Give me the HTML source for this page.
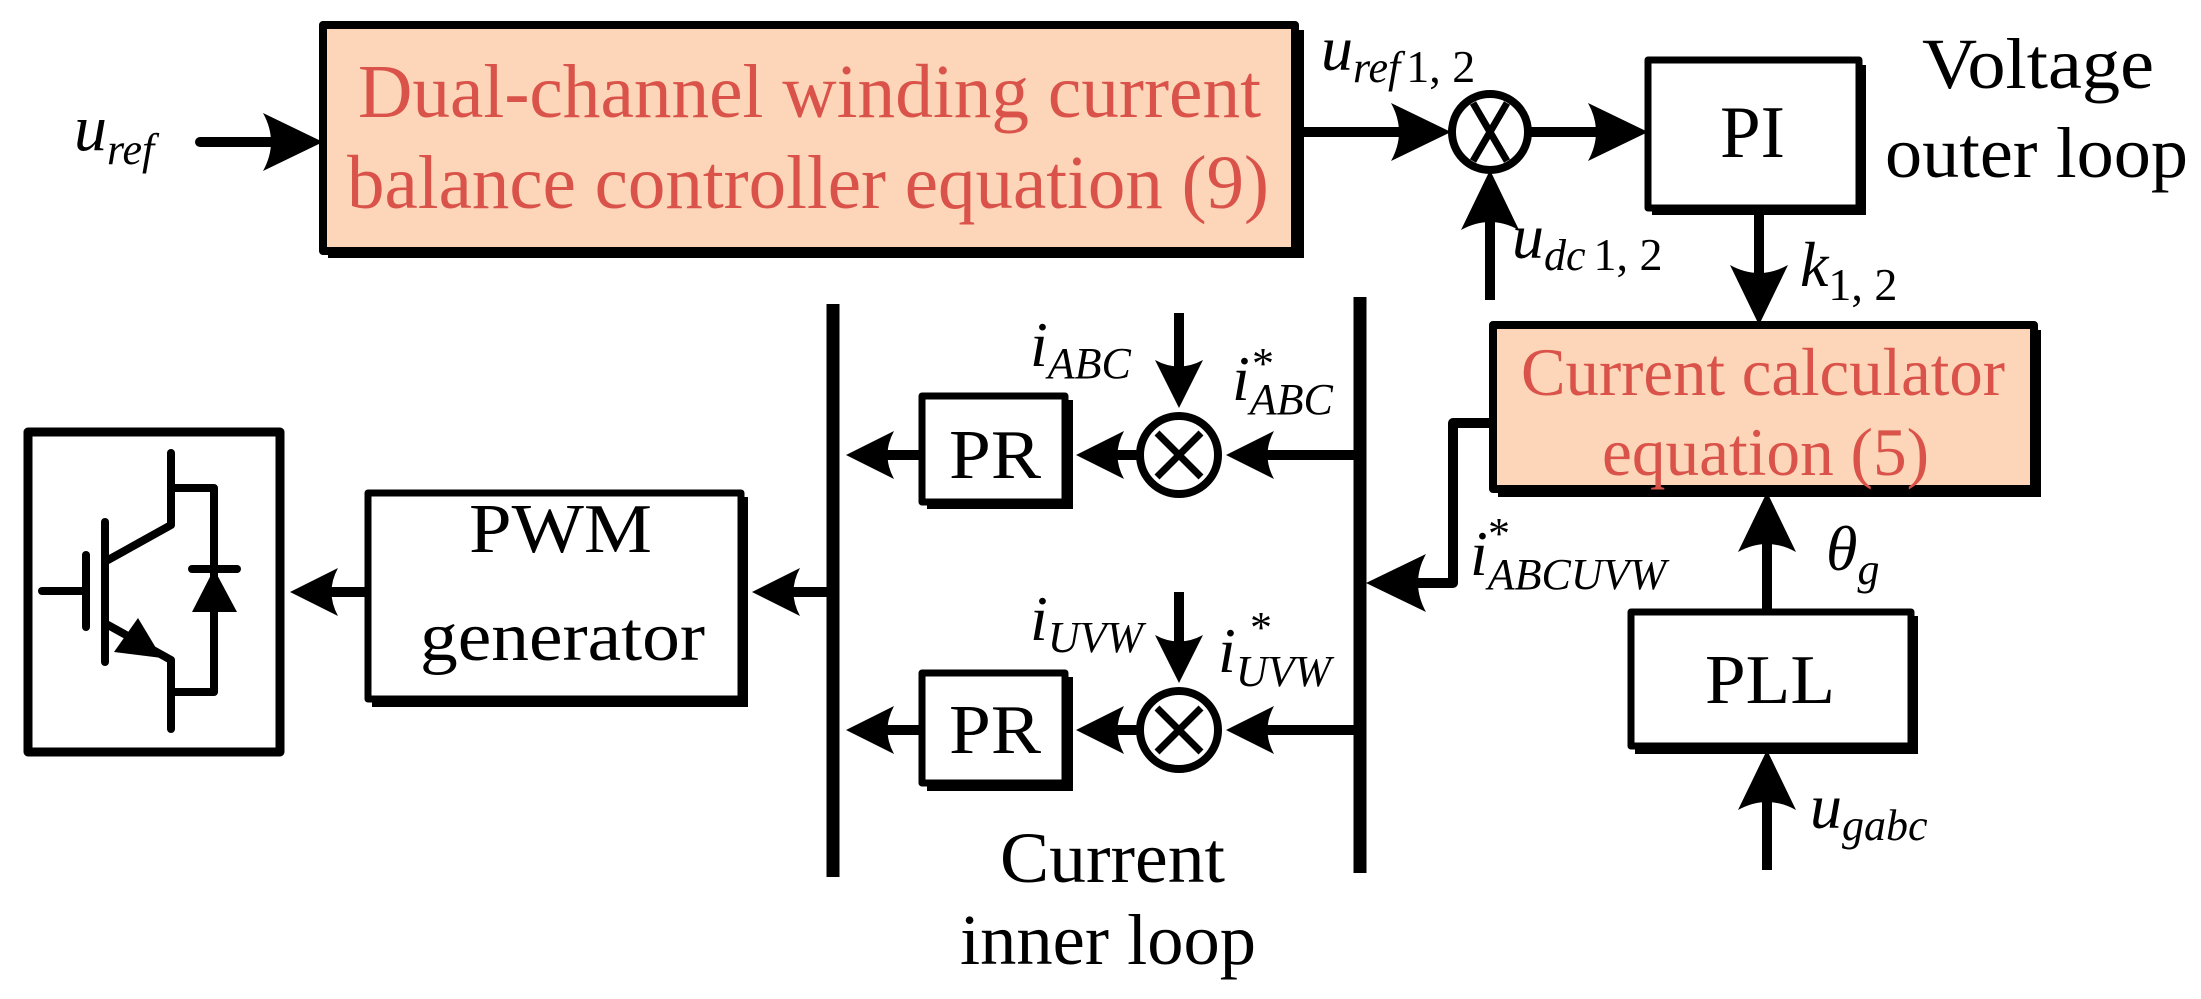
<!DOCTYPE html>
<html><head><meta charset="utf-8"><style>
html,body{margin:0;padding:0;background:#fff;}
svg{display:block;}
text{font-family:"Liberation Serif","Times New Roman",serif;}
.it{font-style:italic;}
.red{fill:#d9534a;}
</style></head><body>
<svg width="2201" height="999" viewBox="0 0 2201 999" xmlns="http://www.w3.org/2000/svg">
<defs>
<marker id="a" viewBox="0 0 60 58" refX="40" refY="29" markerWidth="60" markerHeight="58" markerUnits="userSpaceOnUse" orient="auto">
<path d="M0,0 L60,29 L0,58 Q16,29 0,0 Z" fill="#000"/>
</marker>
<marker id="s" viewBox="0 0 48 48" refX="28" refY="24" markerWidth="48" markerHeight="48" markerUnits="userSpaceOnUse" orient="auto">
<path d="M0,0 L48,24 L0,48 Q13,24 0,0 Z" fill="#000"/>
</marker>
</defs>
<g stroke="#000" fill="none" stroke-linejoin="round">
<rect x="328" y="30" width="976" height="228" fill="#000" stroke="none"/>
<rect x="323" y="25" width="972" height="226" fill="#fdd5b8" stroke-width="8"/>
<rect x="1652" y="65" width="214" height="150" fill="#000" stroke="none"/>
<rect x="1648" y="60" width="211" height="148" fill="#fff" stroke-width="7"/>
<rect x="1498" y="330" width="543" height="167" fill="#000" stroke="none"/>
<rect x="1493" y="325" width="541" height="164" fill="#fdd5b8" stroke-width="8"/>
<rect x="1635" y="616" width="283" height="138" fill="#000" stroke="none"/>
<rect x="1631" y="612" width="280" height="134" fill="#fff" stroke-width="7"/>
<rect x="927" y="400" width="146" height="109" fill="#000" stroke="none"/>
<rect x="922" y="396" width="143" height="106" fill="#fff" stroke-width="7"/>
<rect x="927" y="677" width="146" height="114" fill="#000" stroke="none"/>
<rect x="922" y="673" width="143" height="110" fill="#fff" stroke-width="7"/>
<rect x="372" y="497" width="376" height="210" fill="#000" stroke="none"/>
<rect x="368" y="493" width="373" height="206" fill="#fff" stroke-width="7"/>
<rect x="28" y="432" width="252" height="320" fill="#fff" stroke-width="9"/>
<line x1="833" y1="304" x2="833" y2="877" stroke-width="13"/>
<line x1="1360" y1="297" x2="1360" y2="873" stroke-width="13"/>
<circle cx="1490" cy="132" r="38" stroke-width="8" fill="#fff"/>
<line x1="1473" y1="103" x2="1507" y2="161" stroke-width="7"/>
<line x1="1507" y1="103" x2="1473" y2="161" stroke-width="7"/>
<circle cx="1179" cy="455" r="39" stroke-width="8" fill="#fff"/>
<line x1="1157" y1="433" x2="1201" y2="477" stroke-width="7"/>
<line x1="1201" y1="433" x2="1157" y2="477" stroke-width="7"/>
<circle cx="1179" cy="730" r="39" stroke-width="8" fill="#fff"/>
<line x1="1157" y1="708" x2="1201" y2="752" stroke-width="7"/>
<line x1="1201" y1="708" x2="1157" y2="752" stroke-width="7"/>
<g stroke-width="10" stroke-linecap="butt">
<line x1="200" y1="142" x2="303" y2="142" marker-end="url(#a)" stroke-linecap="round"/>
<line x1="1299" y1="132" x2="1431" y2="132" marker-end="url(#a)"/>
<line x1="1527" y1="132" x2="1628" y2="132" marker-end="url(#a)"/>
<line x1="1490" y1="300" x2="1490" y2="190" marker-end="url(#a)"/>
<line x1="1759" y1="212" x2="1759" y2="305" marker-end="url(#a)"/>
<line x1="1767" y1="612" x2="1767" y2="512" marker-end="url(#a)"/>
<line x1="1767" y1="870" x2="1767" y2="770" marker-end="url(#a)"/>
<polyline points="1493,423 1453,423 1453,583 1386,583" marker-end="url(#a)"/>
<line x1="1360" y1="455" x2="1246" y2="455" marker-end="url(#s)"/>
<line x1="1360" y1="730" x2="1246" y2="730" marker-end="url(#s)"/>
<line x1="1140" y1="455" x2="1096" y2="455" marker-end="url(#s)"/>
<line x1="1140" y1="730" x2="1096" y2="730" marker-end="url(#s)"/>
<line x1="922" y1="455" x2="866" y2="455" marker-end="url(#s)"/>
<line x1="922" y1="730" x2="866" y2="730" marker-end="url(#s)"/>
<line x1="1179" y1="313" x2="1179" y2="388" marker-end="url(#s)"/>
<line x1="1179" y1="592" x2="1179" y2="663" marker-end="url(#s)"/>
<line x1="833" y1="592" x2="772" y2="592" marker-end="url(#s)"/>
<line x1="368" y1="592" x2="310" y2="592" marker-end="url(#s)"/>
</g>
<g stroke-width="8" stroke-linecap="round">
<line x1="42" y1="591" x2="86" y2="591"/>
<line x1="86" y1="555" x2="86" y2="627"/>
<line x1="105" y1="522" x2="105" y2="662"/>
<polyline points="108,560 171,525 171,453"/>
<polyline points="171,488 214,488 214,692 171,692"/>
<line x1="192" y1="569" x2="237" y2="569"/>
<polyline points="108,625 171,660 171,729"/>
</g>
<polygon points="192,612 237,612 214,569" fill="#000" stroke="none"/>
<polygon points="114,652 138,618 162,658" fill="#000" stroke="none"/>
</g>
<text x="358" y="117" font-size="76" class="red" textLength="903" lengthAdjust="spacingAndGlyphs">Dual-channel winding current</text>
<text x="347" y="208" font-size="76" class="red" textLength="922" lengthAdjust="spacingAndGlyphs">balance controller equation (9)</text>
<text x="1521" y="395" font-size="68" class="red" textLength="484" lengthAdjust="spacingAndGlyphs">Current calculator</text>
<text x="1602" y="475" font-size="68" class="red" textLength="327" lengthAdjust="spacingAndGlyphs">equation (5)</text>
<text x="1720" y="157" font-size="74" textLength="65" lengthAdjust="spacingAndGlyphs">PI</text>
<text x="1922" y="88" font-size="72" textLength="232" lengthAdjust="spacingAndGlyphs">Voltage</text>
<text x="1885" y="177" font-size="72" textLength="303" lengthAdjust="spacingAndGlyphs">outer loop</text>
<text x="949" y="478" font-size="70" textLength="92" lengthAdjust="spacingAndGlyphs">PR</text>
<text x="949" y="753" font-size="70" textLength="92" lengthAdjust="spacingAndGlyphs">PR</text>
<text x="469" y="552" font-size="70" textLength="183" lengthAdjust="spacingAndGlyphs">PWM</text>
<text x="420" y="660" font-size="70" textLength="285" lengthAdjust="spacingAndGlyphs">generator</text>
<text x="1705" y="703" font-size="70" textLength="130" lengthAdjust="spacingAndGlyphs">PLL</text>
<text x="1000" y="882" font-size="72" textLength="225" lengthAdjust="spacingAndGlyphs">Current</text>
<text x="960" y="964" font-size="72" textLength="296" lengthAdjust="spacingAndGlyphs">inner loop</text>
<text x="74" y="150" font-size="66" class="it">u<tspan font-size="44" dy="14">ref</tspan></text>
<text x="1321" y="70" font-size="64" class="it">u<tspan font-size="44" dy="12">ref</tspan><tspan font-size="46" font-style="normal" dx="6">1, 2</tspan></text>
<text x="1512" y="258" font-size="64" class="it">u<tspan font-size="44" dy="12">dc</tspan><tspan font-size="46" font-style="normal" dx="8">1, 2</tspan></text>
<text x="1800" y="286" font-size="64" class="it">k<tspan font-size="46" font-style="normal" dy="14">1, 2</tspan></text>
<text x="1030" y="366" font-size="64" class="it">i<tspan font-size="44" dy="12">ABC</tspan></text>
<text x="1232" y="400" font-size="64" class="it">i<tspan font-size="44" dy="14">ABC</tspan></text>
<text x="1252" y="378" font-size="44">*</text>
<text x="1030" y="640" font-size="64" class="it">i<tspan font-size="44" dy="12">UVW</tspan></text>
<text x="1218" y="672" font-size="64" class="it">i<tspan font-size="44" dy="14">UVW</tspan></text>
<text x="1250" y="642" font-size="44">*</text>
<text x="1470" y="575" font-size="64" class="it">i<tspan font-size="44" dy="14">ABCUVW</tspan></text>
<text x="1488" y="548" font-size="44">*</text>
<text x="1826" y="570" font-size="64" class="it">θ<tspan font-size="44" dy="14">g</tspan></text>
<text x="1810" y="828" font-size="64" class="it">u<tspan font-size="44" dy="12">gabc</tspan></text>
</svg>
</body></html>
